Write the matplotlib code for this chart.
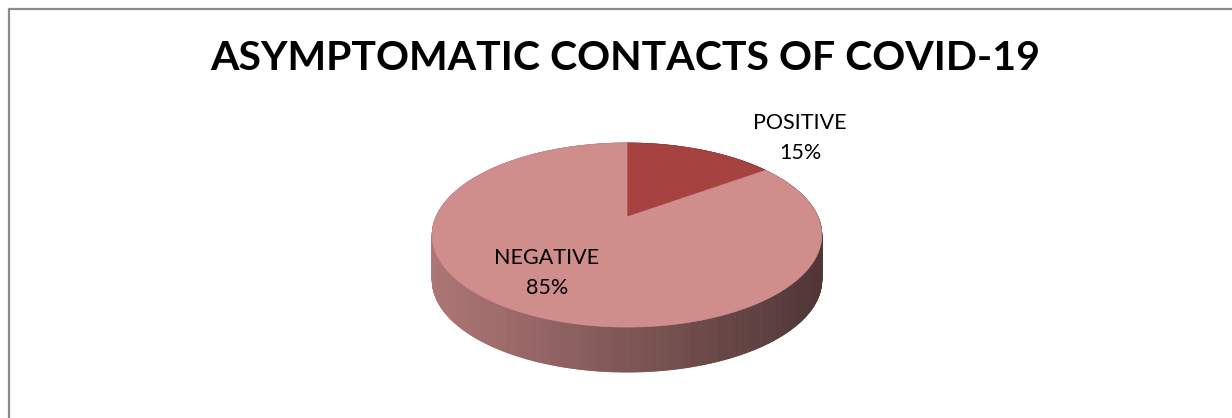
import numpy as np
import matplotlib.pyplot as plt
from matplotlib.collections import PolyCollection
from matplotlib.patches import Polygon
import matplotlib.colors as mcolors

# data
labels = ['POSITIVE', 'NEGATIVE']
values = [15, 85]
colors = ['#a64341', '#cf8d8c']
title = 'ASYMPTOMATIC CONTACTS OF COVID-19'

plt.rcParams['font.family'] = ['Lato', 'DejaVu Sans']

fig = plt.figure(figsize=(12.32, 4.18), dpi=100)
ax = fig.add_axes([0, 0, 1, 1])
ax.set_xlim(0, 1232)
ax.set_ylim(418, 0)
ax.axis('off')

# pie geometry in pixels (perspective tilted disk)
cx, cy = 627, 217
A, B, k = 191, 88.5, 0.196
depth = 45


def proj(theta, r=1.0):
    # theta: degrees clockwise from 12 o'clock
    t = np.radians(theta)
    x3 = r * np.sin(t)
    y3 = r * np.cos(t)
    w = 1 + k * y3
    return cx + A * x3 / w, cy - B * y3 / w


total = sum(values)
starts = np.cumsum([0] + values[:-1]) / total * 360
spans = np.array(values) / total * 360

# side wall, drawn as thin quads coloured by horizontal position
quads, qcols, order = [], [], []
for s, sp, c in zip(starts, spans, colors):
    base = np.array(mcolors.to_rgb(c))
    th = np.linspace(s, s + sp, int(sp * 2) + 2)
    for a0, a1 in zip(th[:-1], th[1:]):
        x0, y0 = proj(a0)
        x1, y1 = proj(a1)
        quads.append([(x0, y0), (x1, y1), (x1, y1 + depth), (x0, y0 + depth)])
        f = 0.84 - 0.46 * ((x0 + x1) / 2 - (cx - A * 1.02)) / (2 * A * 1.02)
        qcols.append(np.clip(base * f, 0, 1))
        order.append(-np.cos(np.radians((a0 + a1) / 2)))
idx = np.argsort(order)
side = PolyCollection([quads[i] for i in idx], facecolors=[qcols[i] for i in idx],
                      edgecolors=[qcols[i] for i in idx], linewidths=0.6)
ax.add_collection(side)

# top faces
for s, sp, c in zip(starts, spans, colors):
    th = np.linspace(s, s + sp, 200)
    xs, ys = proj(th)
    pts = [(cx, cy)] + list(zip(xs, ys))
    ax.add_patch(Polygon(pts, closed=True, facecolor=c, edgecolor=c, linewidth=0.5))

# data labels
ax.text(800, 138, f'{labels[0]}\n{values[0]}%', ha='center', va='center',
        fontsize=15.5, linespacing=1.6, color='black')
ax.text(547, 273, f'{labels[1]}\n{values[1]}%', ha='center', va='center',
        fontsize=15.5, linespacing=1.6, color='black')

ax.text(625, 58, title, ha='center', va='center', fontsize=29.5, fontweight='bold')

# chart border (only top and left visible)
ax.plot([8.5, 8.5, 1232], [418, 9, 9], color='#8a8a8a', linewidth=1.6)

fig.savefig('out.png', dpi=100)
